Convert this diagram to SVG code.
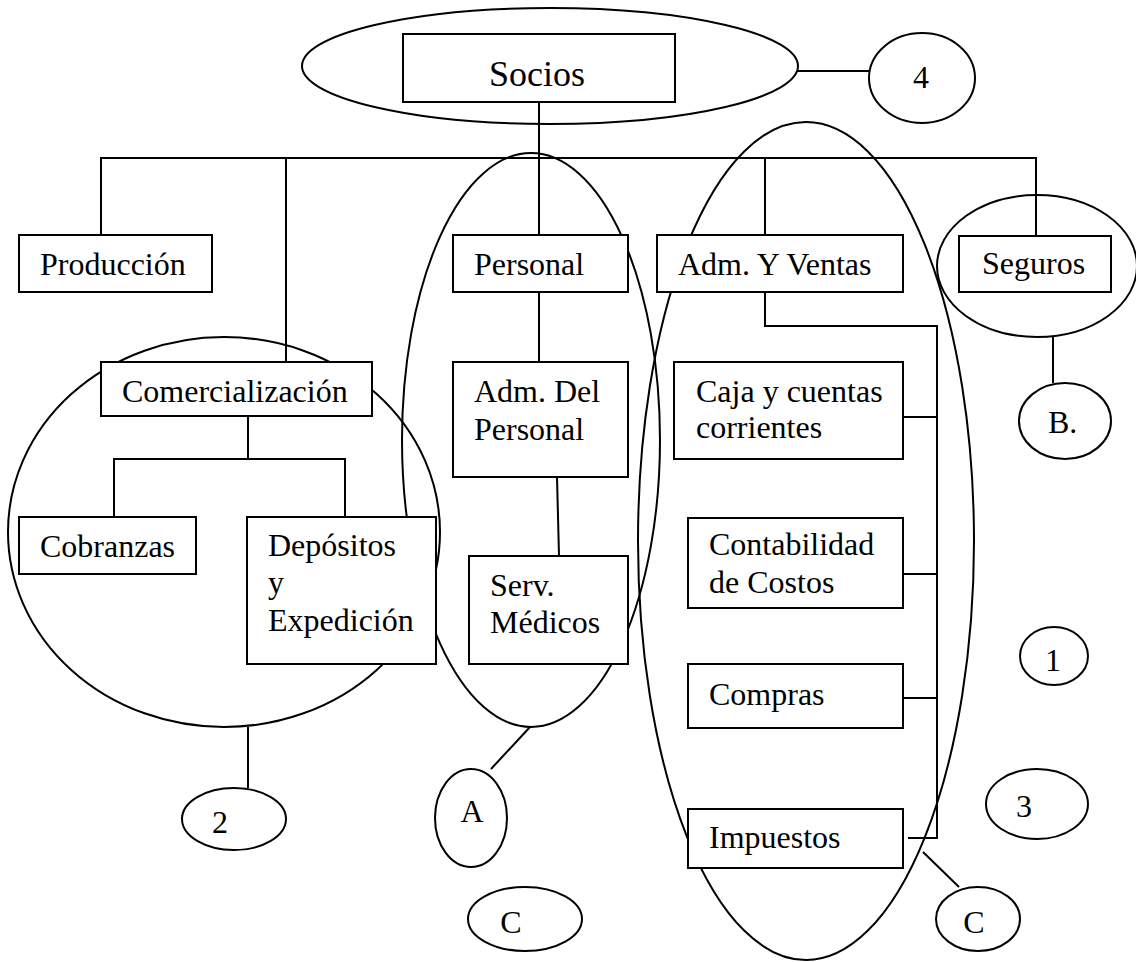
<svg xmlns="http://www.w3.org/2000/svg" width="1136" height="962" viewBox="0 0 1136 962">
  <style>
    .box { fill: #fff; stroke: #000; stroke-width: 2; }
    .ring { fill: none; stroke: #000; stroke-width: 2; }
    .tag { fill: #fff; stroke: #000; stroke-width: 2; }
    .wire { fill: none; stroke: #000; stroke-width: 2; }
    text { font-family: "Liberation Serif", "Times New Roman", serif; font-size: 32px; fill: #000; }
    .big { font-size: 36px; }
    .mid { text-anchor: middle; }
  </style>

  <!-- grouping outlines (unfilled) -->
  <g id="groupings">
    <ellipse class="ring" cx="550" cy="66" rx="248" ry="58"/>
    <ellipse class="ring" cx="224" cy="532" rx="216" ry="195"/>
    <ellipse class="ring" cx="531" cy="440" rx="129" ry="287"/>
    <ellipse class="ring" cx="806" cy="541" rx="168" ry="419"/>
    <ellipse class="ring" cx="1037" cy="266" rx="100" ry="71"/>
  </g>

  <!-- connectors -->
  <g id="connectors">
    <!-- top bar -->
    <polyline class="wire" points="539,102 539,235"/>
    <polyline class="wire" points="101,235 101,158 1036,158 1036,236"/>
    <line class="wire" x1="286" y1="158" x2="286" y2="362"/>
    <line class="wire" x1="765" y1="158" x2="765" y2="235"/>
    <!-- Comercialización branch -->
    <line class="wire" x1="248" y1="416" x2="248" y2="459"/>
    <polyline class="wire" points="114,517 114,459 345,459 345,517"/>
    <!-- Personal branch -->
    <line class="wire" x1="539" y1="292" x2="539" y2="362"/>
    <line class="wire" x1="557" y1="477" x2="559" y2="556"/>
    <!-- Adm. Y Ventas branch -->
    <polyline class="wire" points="765,292 765,326 937,326 937,838 908,838"/>
    <line class="wire" x1="903" y1="417" x2="937" y2="417"/>
    <line class="wire" x1="903" y1="574" x2="937" y2="574"/>
    <line class="wire" x1="903" y1="698" x2="937" y2="698"/>
    <!-- labels -->
    <line class="wire" x1="797" y1="71" x2="869" y2="71"/>
    <line class="wire" x1="248" y1="727" x2="248" y2="788"/>
    <line class="wire" x1="530" y1="727" x2="491" y2="769"/>
    <line class="wire" x1="1053" y1="337" x2="1053" y2="383"/>
    <line class="wire" x1="923" y1="852" x2="959" y2="887"/>
  </g>

  <g id="socios">
    <rect class="box" x="403" y="34" width="272" height="68"/>
    <text class="big" x="489" y="86">Socios</text>
  </g>
  <g id="produccion">
    <rect class="box" x="19" y="235" width="193" height="57"/>
    <text x="40" y="275">Producción</text>
  </g>
  <g id="comercializacion">
    <rect class="box" x="101" y="362" width="271" height="54"/>
    <text x="122" y="402">Comercialización</text>
  </g>
  <g id="cobranzas">
    <rect class="box" x="19" y="517" width="177" height="57"/>
    <text x="40" y="557">Cobranzas</text>
  </g>
  <g id="depositos">
    <rect class="box" x="247" y="517" width="189" height="147"/>
    <text x="268" y="556">Depósitos<tspan x="268" dy="37">y</tspan><tspan x="268" dy="38">Expedición</tspan></text>
  </g>
  <g id="personal">
    <rect class="box" x="453" y="235" width="175" height="57"/>
    <text x="474" y="275">Personal</text>
  </g>
  <g id="adm-personal">
    <rect class="box" x="453" y="362" width="175" height="115"/>
    <text x="474" y="402">Adm. Del<tspan x="474" dy="38">Personal</tspan></text>
  </g>
  <g id="serv-medicos">
    <rect class="box" x="469" y="556" width="159" height="108"/>
    <text x="490" y="596">Serv.<tspan x="490" dy="37">Médicos</tspan></text>
  </g>
  <g id="adm-ventas">
    <rect class="box" x="657" y="235" width="246" height="57"/>
    <text x="678" y="275">Adm. Y Ventas</text>
  </g>
  <g id="caja">
    <rect class="box" x="674" y="362" width="229" height="97"/>
    <text x="696" y="402">Caja y cuentas<tspan x="696" dy="36">corrientes</tspan></text>
  </g>
  <g id="contabilidad">
    <rect class="box" x="688" y="518" width="215" height="90"/>
    <text x="709" y="555">Contabilidad<tspan x="709" dy="38">de Costos</tspan></text>
  </g>
  <g id="compras">
    <rect class="box" x="688" y="664" width="215" height="64"/>
    <text x="709" y="705">Compras</text>
  </g>
  <g id="impuestos">
    <rect class="box" x="688" y="809" width="215" height="59"/>
    <text x="709" y="848">Impuestos</text>
  </g>
  <g id="seguros">
    <rect class="box" x="959" y="236" width="152" height="56"/>
    <text x="982" y="274">Seguros</text>
  </g>

  <!-- marker ellipses -->
  <g id="tag-4">
    <ellipse class="tag" cx="922" cy="78" rx="53" ry="45"/>
    <text class="mid" x="921" y="88">4</text>
  </g>
  <g id="tag-2">
    <ellipse class="tag" cx="234" cy="819" rx="52" ry="31"/>
    <text class="mid" x="220" y="833">2</text>
  </g>
  <g id="tag-a">
    <ellipse class="tag" cx="471" cy="818" rx="36" ry="49"/>
    <text class="mid" x="472" y="822">A</text>
  </g>
  <g id="tag-c-left">
    <ellipse class="tag" cx="525" cy="919" rx="57" ry="32"/>
    <text class="mid" x="511" y="933">C</text>
  </g>
  <g id="tag-b">
    <ellipse class="tag" cx="1065" cy="421" rx="46" ry="38"/>
    <text x="1048" y="433">B.</text>
  </g>
  <g id="tag-1">
    <ellipse class="tag" cx="1054" cy="656" rx="34" ry="29"/>
    <text class="mid" x="1053" y="671">1</text>
  </g>
  <g id="tag-3">
    <ellipse class="tag" cx="1037" cy="804" rx="51" ry="35"/>
    <text class="mid" x="1024" y="817">3</text>
  </g>
  <g id="tag-c-right">
    <ellipse class="tag" cx="978" cy="919" rx="42" ry="32"/>
    <text class="mid" x="974" y="933">C</text>
  </g>
</svg>
